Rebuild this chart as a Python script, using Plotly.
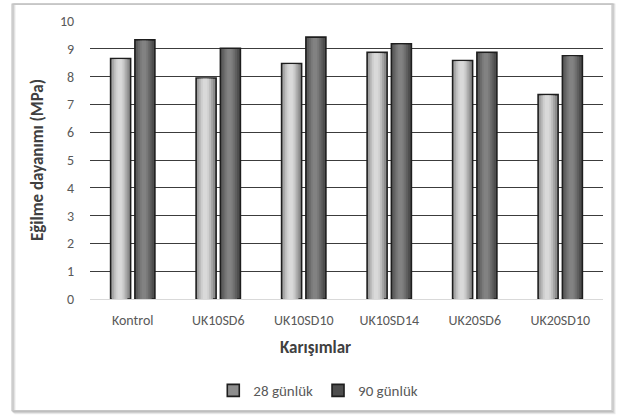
import plotly.graph_objects as go

# Flexural strength of the mixes at two curing ages
categories = ["Kontrol", "UK10SD6", "UK10SD10", "UK10SD14", "UK20SD6", "UK20SD10"]
strength_28 = [8.65, 7.95, 8.47, 8.87, 8.58, 7.35]
strength_90 = [9.32, 9.02, 9.42, 9.18, 8.87, 8.75]
series_names = ["28 günlük", "90 günlük"]

FONT = "Carlito, Lato, sans-serif"
BAR_W = 0.234          # bar width in category units
LEFT_OFF = -0.259      # offset of the 28-day bar
RIGHT_OFF = 0.025      # offset of the 90-day bar

# cylinder-like shading: outer colour first, lighter inner strips after
shades_28 = ["#8e8e8e", "#a6a6a6", "#bdbdbd", "#cfcfcf", "#d9d9d9"]
shades_90 = ["#4e4e4e", "#5e5e5e", "#6c6c6c", "#797979", "#828282"]

fig = go.Figure()


def add_series(values, offset, shades, name):
    # base bar with dark outline
    fig.add_trace(go.Bar(
        x=categories, y=values, name=name, offset=offset, width=BAR_W,
        marker=dict(color=shades[0], line=dict(color="#1e1e1e", width=1.6)),
        showlegend=True, hoverinfo="y",
    ))
    # inner strips, narrower and lighter toward the highlight
    fracs = [0.78, 0.58, 0.40, 0.22]
    centre = offset + BAR_W * 0.45
    for f, c in zip(fracs, shades[1:]):
        w = BAR_W * f
        fig.add_trace(go.Bar(
            x=categories, y=[v - 0.03 for v in values], offset=centre - w / 2, width=w,
            marker=dict(color=c, line=dict(width=0)),
            showlegend=False, hoverinfo="skip",
        ))


add_series(strength_28, LEFT_OFF, shades_28, series_names[0])
add_series(strength_90, RIGHT_OFF, shades_90, series_names[1])

fig.update_layout(
    width=621, height=418,
    margin=dict(l=90, r=18, t=21, b=118),
    paper_bgcolor="white", plot_bgcolor="white",
    barmode="overlay",
    font=dict(family=FONT, color="#595959", size=14),
    legend=dict(
        orientation="h", x=0.445, xanchor="center", y=-0.325, yanchor="middle",
        font=dict(family=FONT, size=15, color="#595959"),
        itemwidth=30, traceorder="normal",
    ),
    xaxis=dict(
        showgrid=False, showline=True, linecolor="#d9d9d9", linewidth=1,
        ticks="outside", ticklen=8, tickcolor="rgba(0,0,0,0)",
        tickfont=dict(family=FONT, size=14, color="#595959"),
        range=[-0.5, 5.5],
    ),
    yaxis=dict(
        range=[0, 10], dtick=1, showgrid=True, gridcolor="#3c3c3c", gridwidth=1,
        zeroline=True, zerolinecolor="#d9d9d9", zerolinewidth=1,
        ticks="outside", ticklen=12, tickcolor="rgba(0,0,0,0)",
        tickfont=dict(family=FONT, size=14, color="#595959"),
        title=dict(text="<b>Eğilme dayanımı (MPa)</b>", standoff=12,
                   font=dict(family=FONT, size=17, color="#404040")),
    ),
    annotations=[dict(
        text="<b>Karışımlar</b>", xref="paper", yref="paper",
        x=0.44, y=-0.175, xanchor="center", yanchor="middle", showarrow=False,
        font=dict(family=FONT, size=17, color="#404040"),
    )],
)

# chart frame with a soft shadow on the right and bottom
frame_shapes = []
for d, col in [(3, "#ededed"), (2, "#d6d6d6"), (1, "#bdbdbd")]:
    frame_shapes.append(dict(
        type="rect", xref="paper", yref="paper", layer="below",
        x0=(12 + d - 90) / 513, x1=(612 + d - 90) / 513,
        y0=(300 - 412 - d) / 279, y1=(300 - 4) / 279,
        line=dict(color=col, width=1.2), fillcolor="rgba(0,0,0,0)",
    ))
frame_shapes.append(dict(
    type="rect", xref="paper", yref="paper", layer="below",
    x0=(12 - 90) / 513, x1=(612 - 90) / 513,
    y0=(300 - 412) / 279, y1=(300 - 4) / 279,
    line=dict(color="#c6c6c6", width=1.2), fillcolor="rgba(0,0,0,0)",
))
fig.update_layout(shapes=frame_shapes)

fig.write_html("out.html")
